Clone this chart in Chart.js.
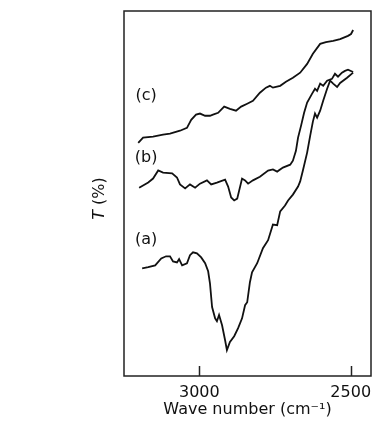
<!DOCTYPE html>
<html>
<head>
<meta charset="utf-8">
<script src="https://cdn.jsdelivr.net/npm/chart.js@4.4.1/dist/chart.umd.min.js"></script>
<style>
html, body { margin: 0; padding: 0; background: #fff; }
#wrap { width: 375px; height: 425px; position: relative; }
</style>
</head>
<body>
<div id="wrap"><canvas id="irChart"></canvas></div>
<script>
// IR transmission spectra (a), (b), (c), C-H stretching region
var waveA = [3189,3169,3146,3126,3110,3097,3087,3074,3067,3057,3041,3031,3021,3008,2994,2981,2971,2965,2958,2948,2942,2935,2925,2915,2909,2899,2885,2872,2859,2849,2842,2833,2826,2809,2790,2773,2757,2743,2733,2717,2707,2691,2674,2667,2658,2644,2634,2625,2618,2611,2601,2591,2578,2568,2558,2545,2535,2512,2492];
var transA = [29.5,29.8,30.3,32.2,32.8,32.8,31.4,31.1,32.0,30.3,30.9,33.1,33.9,33.6,32.5,30.9,28.7,25.4,18.9,15.8,15.0,16.7,13.9,9.8,7.1,9.3,10.9,13.1,15.8,19.4,20.2,25.7,28.4,30.9,35.0,37.2,41.5,41.3,45.1,46.7,48.1,49.7,51.9,53.3,56.3,61.2,65.8,69.7,71.9,70.8,72.7,75.4,78.7,80.9,80.1,79.2,80.3,81.7,83.1];

var waveB = [3199,3169,3153,3136,3120,3090,3074,3064,3047,3031,3014,2998,2975,2961,2942,2915,2905,2895,2885,2875,2859,2849,2839,2823,2800,2773,2757,2743,2724,2700,2691,2681,2674,2664,2654,2644,2628,2618,2611,2601,2591,2578,2562,2552,2542,2529,2519,2509,2492];
var transB = [51.6,53.0,54.1,56.3,55.7,55.5,54.4,52.5,51.4,52.5,51.6,52.7,53.6,52.5,53.0,53.8,51.9,48.9,48.1,48.6,54.1,53.6,52.7,53.6,54.6,56.3,56.6,56.0,57.1,57.9,59.0,61.7,65.3,68.6,72.1,74.9,77.3,78.7,78.1,80.1,79.5,80.9,81.4,82.8,82.0,83.1,83.6,83.9,83.3];

var waveC = [3202,3186,3153,3120,3097,3064,3041,3027,3011,2998,2981,2965,2955,2938,2918,2899,2879,2862,2842,2823,2800,2780,2767,2757,2733,2714,2691,2667,2644,2625,2601,2582,2558,2535,2509,2499,2492];
var transC = [63.9,65.3,65.6,66.1,66.4,67.2,68.0,70.2,71.6,71.9,71.3,71.3,71.6,72.1,73.8,73.2,72.7,73.8,74.6,75.4,77.6,79.0,79.5,79.0,79.5,80.6,81.7,83.1,85.5,88.3,91.0,91.5,91.8,92.3,93.2,93.7,94.8];

var xTicks = [3000, 2500];
var curveNames = ["(a)", "(b)", "(c)"];
var nameWave = 3176;
var nameTrans = [37.2, 59.8, 76.8];

var fontName = "'DejaVu Sans', sans-serif";
var ink = '#111';

function toPoints(w, t) {
    return w.map(function (v, i) { return { x: v, y: t[i] }; });
}

// box, inward ticks, curve names and the y title
var framePlugin = {
    id: 'frame',
    afterDraw: function (chart) {
        var ctx = chart.ctx;
        var a = chart.chartArea;
        var xs = chart.scales.x;
        var ys = chart.scales.y;
        ctx.save();
        ctx.strokeStyle = '#222';
        ctx.lineWidth = 1.5;
        ctx.strokeRect(a.left, a.top, a.right - a.left, a.bottom - a.top);
        xTicks.forEach(function (v) {
            var px = Math.round(xs.getPixelForValue(v)) + 0.5;
            ctx.beginPath();
            ctx.moveTo(px, a.bottom);
            ctx.lineTo(px, a.bottom - 10);
            ctx.stroke();
        });

        ctx.fillStyle = ink;
        ctx.font = "16px " + fontName;
        ctx.textAlign = 'center';
        ctx.textBaseline = 'middle';
        curveNames.forEach(function (n, i) {
            ctx.fillText(n, xs.getPixelForValue(nameWave), ys.getPixelForValue(nameTrans[i]));
        });

        // rotated "T (%)" with italic T
        ctx.translate(100, (a.top + a.bottom) / 2 + 5);
        ctx.rotate(-Math.PI / 2);
        ctx.textAlign = 'left';
        var italic = "italic 16px " + fontName;
        var normal = "16px " + fontName;
        ctx.font = italic;
        var w1 = ctx.measureText('T').width;
        ctx.font = normal;
        var w2 = ctx.measureText(' (%)').width;
        var x0 = -(w1 + w2) / 2;
        ctx.font = italic;
        ctx.fillText('T', x0, 0);
        ctx.font = normal;
        ctx.fillText(' (%)', x0 + w1, 0);
        ctx.restore();
    }
};

function lineSet(label, w, t) {
    return {
        label: label,
        data: toPoints(w, t),
        borderColor: ink,
        borderWidth: 1.8,
        pointRadius: 0,
        fill: false,
        tension: 0
    };
}

var ctx = document.getElementById("irChart");
var irChart = new Chart(ctx, {
    type: 'line',
    data: {
        datasets: [
            lineSet("(a)", waveA, transA),
            lineSet("(b)", waveB, transB),
            lineSet("(c)", waveC, transC)
        ]
    },
    options: {
        animation: { duration: 0 },
        responsive: true,
        maintainAspectRatio: false,
        layout: { padding: { top: 11, right: 4, left: 0, bottom: 0 } },
        plugins: {
            legend: { display: false },
            tooltip: { enabled: false }
        },
        scales: {
            x: {
                type: 'linear',
                reverse: true,
                min: 2433,
                max: 3249,
                afterBuildTicks: function (s) {
                    s.ticks = xTicks.map(function (v) { return { value: v }; });
                },
                afterFit: function (s) {
                    s.height = 49;
                    s.paddingLeft = 0;
                    s.paddingRight = 0;
                },
                grid: { display: false, drawTicks: false },
                border: { display: false },
                ticks: {
                    font: { family: fontName, size: 16 },
                    color: ink,
                    padding: 7,
                    maxRotation: 0,
                    autoSkip: false,
                    callback: function (v) { return String(v); }
                },
                title: {
                    display: true,
                    text: 'Wave number (cm\u207B\u00B9)',
                    font: { family: fontName, size: 16 },
                    color: ink,
                    padding: { top: 0, bottom: 6 }
                }
            },
            y: {
                min: 0,
                max: 100,
                afterFit: function (s) { s.width = 124; },
                grid: { display: false },
                border: { display: false },
                ticks: { display: false }
            }
        }
    },
    plugins: [framePlugin]
});
</script>
</body>
</html>
